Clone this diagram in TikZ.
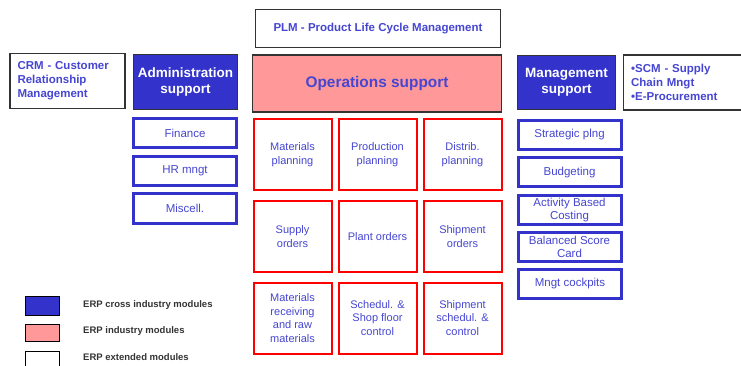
\documentclass[tikz,border=0pt]{standalone}
\usepackage{fontspec}
\setmainfont{Liberation Sans}
\usepackage{xcolor}
\definecolor{erp_blue}{HTML}{3333CC}
\definecolor{erp_text}{HTML}{4646D2}
\definecolor{erp_pink}{HTML}{FF9999}
\definecolor{erp_red}{HTML}{FF0000}
\definecolor{erp_grey}{HTML}{333333}

\begin{document}
\begin{tikzpicture}[x=1pt, y=-1pt,
    ext/.style = {draw=erp_grey, line width=1.2pt, fill=white, text=erp_text, inner sep=0pt, font=\fontsize{11.5}{13.8}\selectfont\bfseries},
    cross/.style = {draw=erp_grey, line width=1.2pt, fill=erp_blue, text=white, align=center, inner sep=1pt, font=\fontsize{13.5}{16.5}\selectfont\bfseries},
    crossmod/.style = {draw=erp_blue, line width=3pt, fill=white, text=erp_text, align=center, minimum width=103pt, minimum height=29pt, inner sep=1pt, font=\fontsize{11.5}{13.3}\selectfont},
    indmod/.style = {draw=erp_red, line width=2pt, fill=white, text=erp_text, align=center, minimum width=78pt, minimum height=71pt, inner sep=1pt, font=\fontsize{11}{13.8}\selectfont},
    legbox/.style = {draw=black, line width=1.2pt, minimum width=34pt, minimum height=19pt, inner sep=0pt},
    legtext/.style = {anchor=west, text=erp_grey, inner sep=0pt, font=\fontsize{9.5}{11}\selectfont\bfseries}]
      \useasboundingbox (0,0) rectangle (741,366);

      \node[ext, minimum width=245pt, minimum height=38pt] (plm) at (378,28.5) {PLM - Product Life Cycle Management};
      \node[ext, minimum width=115pt, minimum height=55pt, text width=100pt, align=left] (crm) at (67.5,81) {CRM - Customer\\Relationship\\Management};
      \node[ext, minimum width=125pt, minimum height=55pt, text width=110pt, align=left, anchor=west] (scm) at (623,82.5) {•SCM - Supply\\Chain Mngt\\•E-Procurement};

      \node[draw=erp_grey, line width=1.2pt, fill=erp_pink, text=erp_text, minimum width=249pt, minimum height=57pt, font=\fontsize{15.4}{18}\selectfont\bfseries] (ops) at (377,83.5) {Operations support};
      \node[cross, minimum width=104pt, minimum height=55pt] (admin) at (185.5,82) {Administration\\support};
      \node[cross, minimum width=98pt, minimum height=54pt] (mgmt) at (566.5,82.5) {Management\\support};

      \node[crossmod] (fin) at (185,133) {Finance};
      \node[crossmod] (hr) at (185,171) {HR mngt};
      \node[crossmod] (misc) at (185,208.5) {Miscell.};

      \node[crossmod] (strat) at (569.5,135) {Strategic plng};
      \node[crossmod] (budg) at (569.5,172.5) {Budgeting};
      \node[crossmod] (abc) at (569.5,210) {Activity Based\\Costing};
      \node[crossmod] (bsc) at (569.5,247) {Balanced Score\\Card};
      \node[crossmod] (cockpit) at (570,283.5) {Mngt cockpits};

      \node[indmod] (matpl) at (292.5,154.5) {Materials\\planning};
      \node[indmod] (prodpl) at (377.5,154.5) {Production\\planning};
      \node[indmod] (distpl) at (462.5,154.5) {Distrib.\\planning};
      \node[indmod] (supord) at (292.5,236.5) {Supply\\orders};
      \node[indmod] (plantord) at (377.5,236.5) {Plant orders};
      \node[indmod] (shipord) at (462.5,236.5) {Shipment\\orders};
      \node[indmod] (matrec) at (292.5,318) {Materials\\receiving\\and raw\\materials};
      \node[indmod] (shopfl) at (377.5,318) {Schedul. \&\\Shop floor\\control};
      \node[indmod] (shipsch) at (462.5,318) {Shipment\\schedul. \&\\control};

      \node[legbox, fill=erp_blue] (legcross) at (42.5,306) {};
      \node[legbox, fill=erp_pink, minimum height=17pt] (legind) at (42.5,333) {};
      \node[legbox, fill=white] (legext) at (42.5,361) {};
      \node[legtext] (txtcross) at (83,305) {ERP cross industry modules};
      \node[legtext] (txtind) at (83,331) {ERP industry modules};
      \node[legtext] (txtext) at (83,357) {ERP extended modules};
    \end{tikzpicture}
\end{document}
